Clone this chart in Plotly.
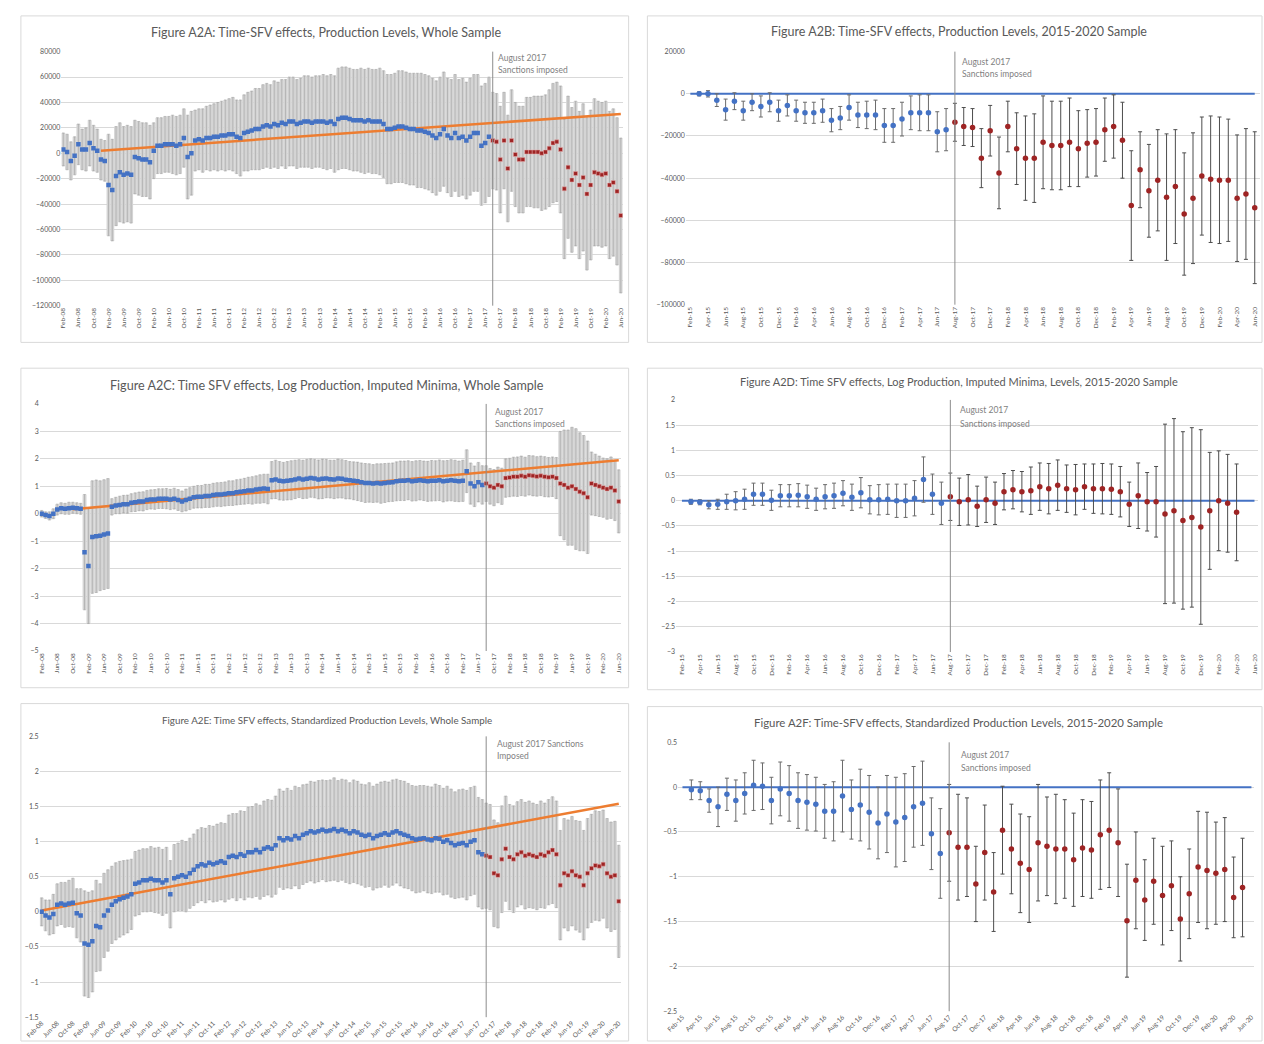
import plotly.graph_objects as go

W, H = 1264, 1044
FONT = "Lato"

def px(x):
    return x / W

def py(y):
    return 1 - y / H

MON = ['Jan', 'Feb', 'Mar', 'Apr', 'May', 'Jun', 'Jul', 'Aug', 'Sep', 'Oct', 'Nov', 'Dec']

def month_range(y0, m0, n):
    out, y, m = [], y0, m0
    for _ in range(n):
        out.append(f"{MON[m-1]}-{y % 100:02d}")
        m += 1
        if m > 12:
            m, y = 1, y + 1
    return out

# ---------------- categories ----------------
cats_whole = month_range(2008, 2, 149)      # Feb-08 .. Jun-20
cats_1520 = month_range(2015, 2, 65)        # Feb-15 .. Jun-20
ticks_whole = cats_whole[::4]
ticks_1520 = cats_1520[::2]
SANCTION_WHOLE = 114   # Aug-17 index, whole sample
SANCTION_1520 = 30     # Aug-17 index, 2015-2020

# ---------------- A2A: production levels, whole sample ----------------
a2a_eff = [3000, 1000, -6000, -2000, 7000, 3000, 3000, 8000, 4000, 2000, -5000, -6000,
           -25000, -29000, -18000, -15000, -17000, -16000, -17000,
           -3000, -4000, -5000, -5000, -7000, 2000, 6000, 6000, 7000, 7000, 7000, 6000, 7000, 12000, -3000, 0,
           10000, 11000, 10000, 12000, 12000, 13000, 13000, 14000, 14000, 15000, 15000, 13000, 12000, 16000, 17000, 18000, 19000, 19000,
           21000, 22000, 21000, 23000, 22000, 24000, 23000, 25000, 25000, 23000, 24000, 25000, 25000, 24000, 25000, 25000, 25000, 24000, 25000, 23000,
           27000, 28000, 28000, 27000, 26000, 26000, 26000, 25000, 26000, 25000, 25000, 25000, 23000,
           19000, 19000, 20000, 21000, 21000, 20000, 19000, 19000, 18000, 18000, 17000, 16000, 14000, 12000,
           15000, 19000, 14000, 12000, 16000, 12000, 13000, 10000, 13000, 16000, 16000, 6000, 8000, 13000,
           10000, 9000, -5000, 10000, -12000, 10000, -1000, -5000, -5000, 1000, 1000, 1000, 1000, 0, 1000, 4000, 8000, 9000, 3000,
           -28000, -11000, -21000, -16000, -25000, -19000, -32000, -25000, -15000, -16000, -17000, -16000, -25000, -23000, -30000, -49000]
a2a_err = [13000, 14000, 15000, 15000, 16000, 16000, 17000, 18000, 18000, 17000, 16000, 16000,
           40000, 40000, 39000, 39000, 38000, 38000, 38000,
           29000, 29000, 29000, 29000, 29000,
           22000, 22000, 22000, 22000, 22000, 23000, 23000, 23000, 23000,
           33000, 33000,
           24000, 24000, 25000, 25000, 26000, 26000, 27000, 27000, 28000, 28000, 29000, 29000,
           30000, 30000, 31000, 31000, 32000, 32000, 33000, 33000, 33000,
           34000, 34000, 34000, 35000, 35000, 35000, 35000, 35000, 36000, 36000, 36000, 36000, 36000, 37000, 37000, 37000, 38000,
           40000, 40000, 40000, 40000, 40000, 40000, 41000, 41000, 41000, 41000, 41000, 42000, 42000,
           43000, 43000, 43000, 44000, 44000, 44000, 44000, 44000, 45000, 45000, 45000, 45000, 45000,
           45000, 45000, 45000, 45000, 46000, 46000, 46000, 46000, 46000, 46000, 46000, 46000, 47000, 47000, 47000,
           38000, 38000, 42000, 38000, 42000, 40000,
           41000, 42000, 42000, 43000, 43000, 44000, 44000, 45000, 45000, 46000, 47000, 47000,
           50000, 55000, 56000, 57000, 57000, 58000, 58000, 60000, 59000, 58000, 57000, 57000, 57000, 58000, 58000, 58000, 61000]
a2a_trend_x = ["Dec-08", "Jun-20"]
a2a_trend_y = [2000, 31000]

# ---------------- A2B: production levels, 2015-2020 ----------------
a2b_eff = [0, 0, -3000, -7500, -3500, -8000, -4000, -6000, -4000, -8000, -5500, -8000, -9000, -9000, -8000,
           -12500, -11500, -6500, -10000, -10000, -10000, -15000, -15000, -12000, -9000, -9000, -9000, -18000, -17000,
           -13500, -15500, -16000, -30500, -17500, -37500, -15500, -26000, -30500, -30500, -23000, -24500, -24500,
           -23000, -26000, -23500, -23000, -17000, -15500, -22000, -53000, -36000, -46000, -41000, -49000, -44000,
           -57000, -49500, -39000, -40500, -41000, -41000, -49500, -47500, -54000]
a2b_err = [1000, 1500, 3000, 5000, 4000, 4500, 4000, 5000, 4500, 5000, 5000, 5000, 5000, 5000, 5500,
           5500, 5500, 6000, 6000, 6500, 7000, 8000, 8000, 8000, 8000, 8500, 8500, 9500, 10000,
           9000, 9000, 9000, 14000, 12000, 17000, 12000, 17000, 20000, 21000, 22000, 21000, 21000,
           21000, 18000, 16000, 16000, 15000, 15000, 18000, 26000, 18000, 22000, 24000, 30000, 27000,
           29000, 31000, 28000, 30000, 30000, 29000, 30000, 31000, 36000]

# ---------------- A2C: log production, whole sample ----------------
a2c_eff = [0.0, -0.05, -0.08, 0.0,
           0.15, 0.2, 0.18, 0.2, 0.22, 0.2, 0.18,
           -1.4, -1.9,
           -0.85, -0.82, -0.8, -0.76, -0.72,
           0.25, 0.3, 0.32, 0.35, 0.35, 0.4, 0.42, 0.45, 0.45, 0.5,
           0.52, 0.52, 0.55, 0.55, 0.55, 0.52, 0.55, 0.5, 0.45, 0.5, 0.55,
           0.6, 0.62, 0.62, 0.65, 0.65, 0.68, 0.7, 0.7, 0.72, 0.75, 0.75, 0.78,
           0.8, 0.82, 0.85, 0.85, 0.88, 0.9, 0.92, 0.9,
           1.22, 1.25, 1.2, 1.18, 1.2, 1.22,
           1.25, 1.28, 1.25, 1.27, 1.3, 1.28, 1.25, 1.27, 1.28, 1.26, 1.25, 1.28, 1.27, 1.24, 1.22, 1.2, 1.18,
           1.15, 1.12, 1.12, 1.1, 1.12, 1.1, 1.12, 1.14, 1.15,
           1.18, 1.2, 1.2, 1.22, 1.18, 1.2, 1.22, 1.2, 1.18, 1.2, 1.2, 1.22, 1.18, 1.2, 1.22, 1.2, 1.18, 1.2,
           1.55, 1.1, 1.0, 1.15, 1.05,
           1.1, 1.0, 0.95, 1.05, 1.0,
           1.3, 1.32, 1.35, 1.35, 1.38, 1.35, 1.4, 1.38, 1.36, 1.38, 1.35, 1.33, 1.35, 1.3,
           1.1, 1.05, 0.95, 1.0, 0.9, 0.8, 0.75, 0.6,
           1.1, 1.05, 1.0, 0.95, 0.9, 0.95, 0.85, 0.45]
a2c_err = [0.12, 0.12, 0.15, 0.18, 0.2, 0.2, 0.2, 0.22, 0.2, 0.2, 0.2,
           2.1, 2.1, 2.05, 2.05, 2.0, 2.0, 2.0,
           0.3, 0.3, 0.32, 0.32, 0.33, 0.33, 0.34, 0.34, 0.35, 0.35,
           0.35, 0.36, 0.36, 0.36, 0.37, 0.37, 0.38, 0.38, 0.38, 0.4,
           0.4, 0.4, 0.41, 0.41, 0.42, 0.42, 0.43, 0.43, 0.44, 0.44,
           0.45, 0.45, 0.46, 0.46, 0.47, 0.48, 0.5, 0.5, 0.52, 0.52, 0.54,
           0.68, 0.7, 0.7, 0.69, 0.7, 0.71, 0.7, 0.69, 0.7, 0.71,
           0.7, 0.7, 0.71, 0.72, 0.7, 0.69, 0.7, 0.71, 0.7, 0.7,
           0.68, 0.69, 0.7, 0.7, 0.71, 0.7, 0.69, 0.7, 0.72, 0.71,
           0.7, 0.7, 0.71, 0.72, 0.72, 0.71, 0.72, 0.73, 0.72, 0.72,
           0.73, 0.74, 0.73, 0.74, 0.75, 0.74, 0.75, 0.75, 0.74, 0.75,
           0.78, 0.75, 0.74, 0.72, 0.7,
           0.65, 0.65, 0.66, 0.65, 0.66,
           0.7, 0.7, 0.71, 0.72, 0.72, 0.71, 0.72, 0.73, 0.72, 0.72, 0.73, 0.72, 0.72, 0.75,
           1.9, 2.0, 2.1, 2.15, 2.2, 2.15, 2.1, 2.05,
           1.15, 1.12, 1.1, 1.08, 1.1, 1.12, 1.1, 1.15]
a2c_trend_x = ["Oct-08", "Jun-20"]
a2c_trend_y = [0.16, 1.95]

# ---------------- A2D: log production, 2015-2020 ----------------
a2d_eff = [-0.02, -0.03, -0.08, -0.07, -0.02, 0.0, 0.03, 0.13, 0.13, 0.01, 0.1, 0.1, 0.11, 0.08, 0.03,
           0.08, 0.1, 0.15, 0.07, 0.16, 0.02, 0.02, 0.03, 0.0, 0.0, 0.05, 0.42, 0.13, -0.05,
           0.08, -0.02, 0.02, -0.11, 0.02, -0.05, 0.18, 0.22, 0.18, 0.2, 0.28, 0.24, 0.31, 0.24, 0.22,
           0.28, 0.24, 0.24, 0.23, 0.18, -0.07, 0.1, -0.02, -0.02, -0.26, -0.2, -0.39, -0.33, -0.52,
           -0.2, 0.0, -0.05, -0.23]
a2d_err = [0.05, 0.05, 0.08, 0.1, 0.15, 0.18, 0.2, 0.22, 0.22, 0.2, 0.22, 0.22, 0.23, 0.23, 0.22,
           0.24, 0.25, 0.25, 0.26, 0.3, 0.28, 0.3, 0.3, 0.33, 0.33, 0.35, 0.45, 0.4, 0.42,
           0.47, 0.47, 0.5, 0.4, 0.45, 0.42, 0.36, 0.38, 0.4, 0.47, 0.47, 0.5, 0.5, 0.47, 0.5,
           0.45, 0.49, 0.5, 0.5, 0.5, 0.44, 0.65, 0.58, 0.7, 1.78, 1.83, 1.76, 1.78, 1.93,
           1.16, 0.99, 0.97, 0.96]

# ---------------- A2E: standardized production, whole sample ----------------
a2e_eff = [0.0, -0.05, -0.08, -0.03,
           0.1, 0.12, 0.1, 0.12, 0.13,
           -0.02, -0.05,
           -0.45, -0.47, -0.42,
           -0.2, -0.22,
           -0.05, 0.02,
           0.1, 0.15, 0.18, 0.2, 0.22, 0.25,
           0.4, 0.42, 0.45, 0.45, 0.47, 0.45, 0.45, 0.42,
           0.45, 0.25, 0.48, 0.5,
           0.52, 0.5, 0.55, 0.6,
           0.65, 0.68, 0.66, 0.7, 0.68, 0.7, 0.72, 0.7,
           0.78, 0.8, 0.78, 0.82, 0.8, 0.85, 0.85, 0.88, 0.85,
           0.9, 0.92, 0.9, 0.95,
           1.05, 1.02, 1.05, 1.03, 1.08, 1.05, 1.1,
           1.12, 1.15, 1.13, 1.15, 1.17, 1.15, 1.16, 1.18, 1.15, 1.17, 1.15, 1.12, 1.15, 1.13, 1.1, 1.08, 1.1,
           1.05, 1.08, 1.1, 1.12, 1.1, 1.13,
           1.15, 1.12, 1.1, 1.08, 1.05, 1.03, 1.04,
           1.05, 1.03, 1.02, 1.05, 1.04, 1.0, 1.02, 0.98, 0.95, 0.97,
           0.98, 0.95, 1.0, 1.02, 0.85, 0.82,
           0.8, 0.78, 0.55, 0.52, 0.75,
           0.9, 0.78, 0.75, 0.82, 0.85, 0.8,
           0.82, 0.8, 0.78, 0.82, 0.8, 0.85, 0.88, 0.82,
           0.38, 0.55, 0.52, 0.58, 0.52,
           0.5, 0.38, 0.55, 0.62,
           0.66, 0.65, 0.68, 0.55, 0.5,
           0.52, 0.15]
a2e_err = [0.2, 0.22, 0.25, 0.28, 0.3, 0.3, 0.32, 0.33, 0.35, 0.35, 0.38,
           0.75, 0.75, 0.72, 0.65, 0.62, 0.6, 0.58,
           0.55, 0.55, 0.54, 0.53, 0.52, 0.5,
           0.46, 0.46, 0.45, 0.45, 0.46, 0.46, 0.47, 0.47, 0.47, 0.48, 0.48, 0.48,
           0.5, 0.5, 0.5, 0.51, 0.52, 0.52, 0.53, 0.53, 0.54, 0.55, 0.55, 0.56,
           0.6, 0.6, 0.62, 0.62, 0.63, 0.64, 0.65, 0.66, 0.67, 0.68, 0.68, 0.69, 0.7,
           0.7, 0.7, 0.71, 0.7, 0.71, 0.72, 0.71, 0.7, 0.71, 0.72, 0.72, 0.71,
           0.72, 0.72, 0.73, 0.72, 0.72, 0.73, 0.72, 0.73, 0.73, 0.72, 0.73, 0.74,
           0.74, 0.74, 0.75, 0.74, 0.75, 0.75, 0.74, 0.75, 0.76, 0.75, 0.75, 0.76, 0.76, 0.75, 0.76,
           0.76, 0.77, 0.76, 0.76, 0.77, 0.77, 0.76, 0.77, 0.77, 0.78, 0.77, 0.77, 0.78, 0.78,
           0.75, 0.75, 0.76, 0.75, 0.76, 0.75, 0.75, 0.76, 0.75, 0.75, 0.76, 0.76, 0.75, 0.75, 0.76, 0.75, 0.75, 0.76, 0.76,
           0.78, 0.78, 0.79, 0.78, 0.78, 0.79, 0.78, 0.78, 0.77, 0.78, 0.78, 0.77, 0.78, 0.78, 0.77, 0.8]
a2e_trend_x = ["Feb-08", "Jun-20"]
a2e_trend_y = [0.02, 1.54]

# ---------------- A2F: standardized production, 2015-2020 ----------------
a2f_eff = [-0.03, -0.04, -0.15, -0.22, -0.08, -0.15, -0.07, 0.02, 0.01, -0.15, -0.02, -0.07, -0.15, -0.17, -0.19,
           -0.27, -0.27, -0.1, -0.25, -0.2, -0.28, -0.4, -0.3, -0.39, -0.34, -0.22, -0.18, -0.52, -0.74,
           -0.51, -0.67, -0.67, -1.08, -0.73, -1.17, -0.48, -0.69, -0.85, -0.92, -0.62, -0.66, -0.69, -0.69,
           -0.81, -0.68, -0.7, -0.53, -0.48, -0.62, -1.49, -1.04, -1.26, -1.05, -1.21, -1.1, -1.47, -1.19,
           -0.89, -0.93, -0.96, -0.92, -1.23, -1.12]
a2f_err = [0.11, 0.1, 0.13, 0.22, 0.18, 0.23, 0.23, 0.28, 0.26, 0.26, 0.3, 0.31, 0.31, 0.31, 0.3,
           0.3, 0.33, 0.4, 0.33, 0.4, 0.41, 0.4, 0.43, 0.5, 0.49, 0.45, 0.47, 0.4, 0.5,
           0.54, 0.59, 0.55, 0.42, 0.53, 0.44, 0.49, 0.5, 0.55, 0.59, 0.65, 0.55, 0.61, 0.55,
           0.52, 0.54, 0.54, 0.61, 0.64, 0.6, 0.63, 0.54, 0.45, 0.48, 0.55, 0.5, 0.47, 0.5,
           0.62, 0.65, 0.57, 0.58, 0.45, 0.55]

# ---------------- styling constants ----------------
BLUE = "#4472C4"
RED = "#9E2424"
ORANGE = "#ED7D31"
GRID = "#d9d9d9"
TXT = "#595959"

fig = go.Figure()
layout = dict(width=W, height=H, margin=dict(l=0, r=0, t=0, b=0),
              paper_bgcolor="white", plot_bgcolor="white", showlegend=False,
              font=dict(family=FONT, color=TXT))
shapes, annotations = [], []

panels = [
    dict(n=1, title="Figure A2A: Time-SFV effects, Production Levels, Whole Sample", kind="whole",
         eff=a2a_eff, err=a2a_err, tx=a2a_trend_x, ty=a2a_trend_y,
         xd=(48, 616), yd=(47, 303), yr=(-120000, 80000), dt=20000, xr=(-0.5, 148.5), ang=-90, fmt="d",
         tpos=(316, 28, 12.5), npos=(488, 53, 65), note=("August 2017", "Sanctions imposed"),
         frame=(7, 11, 622, 340)),
    dict(n=2, title="Figure A2B: Time-SFV effects, Production Levels, 2015-2020 Sample", kind="short",
         eff=a2b_eff, err=a2b_err,
         xd=(680, 1261), yd=(47, 302), yr=(-100000, 20000), dt=20000, xr=(-0.5, 64.6), ang=-90, fmt="d",
         tpos=(956, 27, 12.5), npos=(957, 57, 70), note=("August 2017", "Sanctions imposed"),
         frame=(641, 11, 1263, 340)),
    dict(n=3, title="Figure A2C: Time SFV effects, Log Production, Imputed Minima, Whole Sample", kind="whole",
         eff=a2c_eff, err=a2c_err, tx=a2c_trend_x, ty=a2c_trend_y,
         xd=(26, 614), yd=(402, 651), yr=(-5, 4), dt=1, xr=(-0.5, 148.5), ang=-90, fmt="",
         tpos=(317, 383, 12.6), npos=(485, 410, 422), note=("August 2017", "Sanctions imposed"),
         frame=(7, 366, 622, 688)),
    dict(n=4, title="Figure A2D: Time SFV effects, Log Production, Imputed Minima, Levels, 2015-2020 Sample", kind="short",
         eff=a2d_eff, err=a2d_err,
         xd=(670, 1259), yd=(398, 652), yr=(-3, 2), dt=0.5, xr=(-0.66, 64.4), ang=-90, fmt="",
         tpos=(956, 379, 11), npos=(955, 408, 422), note=("August 2017", "Sanctions imposed"),
         frame=(641, 366, 1263, 690)),
    dict(n=5, title="Figure A2E: Time SFV effects, Standardized Production Levels, Whole Sample", kind="whole",
         eff=a2e_eff, err=a2e_err, tx=a2e_trend_x, ty=a2e_trend_y,
         xd=(26, 614), yd=(737, 1020), yr=(-1.5, 2.5), dt=0.5, xr=(-0.5, 148.5), ang=-45, fmt="",
         tpos=(317, 721, 9.8), npos=(487, 745, 757), note=("August 2017 Sanctions", "Imposed"),
         frame=(7, 704, 622, 1044)),
    dict(n=6, title="Figure A2F: Time-SFV effects, Standardized Production Levels, 2015-2020 Sample", kind="short",
         eff=a2f_eff, err=a2f_err,
         xd=(672, 1255), yd=(743, 1014), yr=(-2.5, 0.5), dt=0.5, xr=(-0.5, 64.3), ang=-45, fmt="",
         tpos=(956, 723, 11.4), npos=(956, 756, 769), note=("August 2017", "Sanctions imposed"),
         frame=(641, 707, 1263, 1044)),
]

for p in panels:
    n = p["n"]
    xa = "x" if n == 1 else f"x{n}"
    ya = "y" if n == 1 else f"y{n}"
    whole = p["kind"] == "whole"
    cats = cats_whole if whole else cats_1520
    k = SANCTION_WHOLE if whole else SANCTION_1520

    if whole:
        xs = cats[:len(p["eff"])]
        fig.add_trace(go.Scatter(x=xs, y=p["eff"], mode="markers", xaxis=xa, yaxis=ya,
                                 marker=dict(size=1, color="rgba(0,0,0,0)"), hoverinfo="skip",
                                 error_y=dict(type="data", array=p["err"], color="#d4d4d4",
                                              thickness=3.9, width=0)))
        fig.add_trace(go.Scatter(x=xs, y=p["eff"], mode="markers", xaxis=xa, yaxis=ya,
                                 marker=dict(size=1, color="rgba(0,0,0,0)"), hoverinfo="skip",
                                 error_y=dict(type="data", array=p["err"], color="#969696",
                                              thickness=0.5, width=1.3)))
        fig.add_trace(go.Scatter(x=p["tx"], y=p["ty"], mode="lines", xaxis=xa, yaxis=ya,
                                 line=dict(color=ORANGE, width=2.5), hoverinfo="skip"))
        fig.add_trace(go.Scatter(x=xs[:k], y=p["eff"][:k], mode="markers", xaxis=xa, yaxis=ya,
                                 marker=dict(size=4.5, color=BLUE, symbol="square")))
        fig.add_trace(go.Scatter(x=xs[k:], y=p["eff"][k:], mode="markers", xaxis=xa, yaxis=ya,
                                 marker=dict(size=4, color=RED, symbol="square",
                                             line=dict(width=0.5, color="#e8b0b0"))))
    else:
        xs = cats[1:1 + len(p["eff"])]
        b = k - 1
        fig.add_trace(go.Scatter(x=[cats[0], cats[-1]], y=[0, 0], mode="lines", xaxis=xa, yaxis=ya,
                                 line=dict(color=BLUE, width=2), hoverinfo="skip"))
        fig.add_trace(go.Scatter(x=xs[:b], y=p["eff"][:b], mode="markers", xaxis=xa, yaxis=ya,
                                 marker=dict(size=5.5, color=BLUE),
                                 error_y=dict(type="data", array=p["err"][:b], color="#6b6b6b",
                                              thickness=1, width=2)))
        fig.add_trace(go.Scatter(x=xs[b:], y=p["eff"][b:], mode="markers", xaxis=xa, yaxis=ya,
                                 marker=dict(size=5.5, color=RED),
                                 error_y=dict(type="data", array=p["err"][b:], color="#4d4d4d",
                                              thickness=1, width=2)))

    shapes.append(dict(type="line", xref=xa, yref=f"{ya} domain", x0=k, x1=k, y0=0, y1=1,
                       line=dict(color="#8c8c8c", width=1)))
    fx0, fy0, fx1, fy1 = p["frame"]
    shapes.append(dict(type="rect", xref="paper", yref="paper", x0=px(fx0), x1=px(fx1),
                       y0=py(fy1), y1=py(fy0), line=dict(color="#d9d9d9", width=1)))

    tx, ty, ts = p["tpos"]
    annotations.append(dict(text=p["title"], x=px(tx), y=py(ty), xref="paper", yref="paper",
                            showarrow=False, xanchor="center", yanchor="middle",
                            font=dict(size=ts, color=TXT, family=FONT)))
    nx, ny1, ny2 = p["npos"]
    for txt, yy in zip(p["note"], (ny1, ny2)):
        annotations.append(dict(text=txt, x=px(nx), y=py(yy), xref="paper", yref="paper",
                                showarrow=False, xanchor="left", yanchor="middle",
                                font=dict(size=8.5, color="#7f7f7f", family=FONT)))

    xkey = "xaxis" if n == 1 else f"xaxis{n}"
    ykey = "yaxis" if n == 1 else f"yaxis{n}"
    layout[xkey] = dict(domain=[px(p["xd"][0]), px(p["xd"][1])], anchor=ya, type="category",
                        categoryorder="array", categoryarray=cats, range=list(p["xr"]),
                        tickmode="array", tickvals=ticks_whole if whole else ticks_1520,
                        tickangle=p["ang"], tickfont=dict(size=6.5, color=TXT, family=FONT),
                        showgrid=False, zeroline=False, showline=False, ticks="")
    layout[ykey] = dict(domain=[py(p["yd"][1]), py(p["yd"][0])], anchor=xa,
                        range=list(p["yr"]), dtick=p["dt"], tick0=0, tickformat=p["fmt"],
                        showgrid=True, gridcolor=GRID, gridwidth=1, zeroline=False,
                        showline=False, ticks="", tickfont=dict(size=7, color=TXT, family=FONT))

layout["shapes"] = shapes
layout["annotations"] = annotations
fig.update_layout(**layout)
fig.write_html("out.html", config={"displayModeBar": False},
               post_script="document.body.style.margin='0';document.body.style.overflow='hidden';")
